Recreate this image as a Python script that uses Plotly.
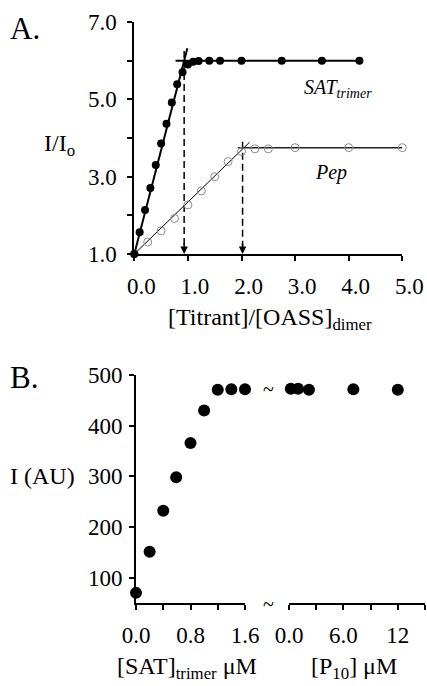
import plotly.graph_objects as go

# ---------------- Panel A data ----------------
sat_x = [0.0, 0.1, 0.2, 0.3, 0.4, 0.5, 0.6, 0.7, 0.8, 0.9, 1.0, 1.1, 1.2, 1.4, 1.6, 2.0, 2.75, 3.5, 4.2]
sat_y = [1.0, 1.56, 2.14, 2.71, 3.30, 3.86, 4.37, 4.92, 5.39, 5.70, 5.90, 5.97, 5.99, 6.0, 6.0, 6.0, 6.0, 6.0, 6.0]
pep_x = [0.0, 0.25, 0.5, 0.75, 1.0, 1.25, 1.5, 1.75, 2.0, 2.25, 2.5, 3.0, 4.0, 5.0]
pep_y = [1.0, 1.31, 1.60, 1.92, 2.27, 2.63, 3.0, 3.39, 3.65, 3.72, 3.72, 3.75, 3.75, 3.75]

sat_fit_x = [0.0, 0.99]
sat_fit_y = [1.0, 6.32]
sat_plateau_x = [0.77, 4.2]
sat_plateau_y = [6.0, 6.0]
pep_fit_x = [0.0, 2.15]
pep_fit_y = [1.0, 3.89]
pep_plateau_x = [1.93, 5.0]
pep_plateau_y = [3.75, 3.75]
sat_break_x = 0.93
pep_break_x = 2.02
sat_drop_y = [6.25, 1.2]
pep_drop_y = [3.9, 1.2]

a_yticks = [1, 2, 3, 4, 5, 6, 7]
a_ytext = ["1.0", "", "3.0", "", "5.0", "", "7.0"]
a_xticks = [0, 1, 2, 3, 4, 5]
a_xtext = ["0.0", "1.0", "2.0", "3.0", "4.0", "5.0"]

# ---------------- Panel B data ----------------
satb_x = [0.0, 0.2, 0.4, 0.59, 0.8, 1.0, 1.2, 1.4, 1.6]
satb_y = [70, 151, 232, 298, 366, 430, 471, 472, 472]
p10_x = [0.2, 1.0, 2.2, 7.1, 12.0]
p10_y = [473, 473, 471, 472, 471]

b_yticks = [100, 200, 300, 400, 500]
b_ytext = ["100", "200", "300", "400", "500"]
b_x2ticks = [0, 0.4, 0.8, 1.2, 1.6]
b_x2text = ["0.0", "", "0.8", "", "1.6"]
b_x3ticks = [0, 3, 6, 9, 12, 15]
b_x3text = ["0.0", "", "6.0", "", "12", ""]

W, H = 427, 686
FONT = "Liberation Serif"


def px(x):
    return x / W


def py(y):
    return 1 - y / H


fig = go.Figure()

# Panel A lines
fig.add_trace(go.Scatter(x=sat_fit_x, y=sat_fit_y, mode="lines",
                         line=dict(color="black", width=2), xaxis="x", yaxis="y", cliponaxis=False))
fig.add_trace(go.Scatter(x=sat_plateau_x, y=sat_plateau_y, mode="lines",
                         line=dict(color="black", width=2), xaxis="x", yaxis="y", cliponaxis=False))
fig.add_trace(go.Scatter(x=pep_fit_x, y=pep_fit_y, mode="lines",
                         line=dict(color="black", width=1), xaxis="x", yaxis="y", cliponaxis=False))
fig.add_trace(go.Scatter(x=pep_plateau_x, y=pep_plateau_y, mode="lines",
                         line=dict(color="#222222", width=1.5), xaxis="x", yaxis="y", cliponaxis=False))
fig.add_trace(go.Scatter(x=[sat_break_x, sat_break_x], y=sat_drop_y, mode="lines",
                         line=dict(color="black", width=1.5, dash="7px,4px"), xaxis="x", yaxis="y"))
fig.add_trace(go.Scatter(x=[pep_break_x, pep_break_x], y=pep_drop_y, mode="lines",
                         line=dict(color="black", width=1.5, dash="7px,4px"), xaxis="x", yaxis="y"))

# Panel A markers
fig.add_trace(go.Scatter(x=pep_x, y=pep_y, mode="markers",
                         marker=dict(symbol="circle-open", size=8, color="#8c8c8c", line=dict(width=1)),
                         xaxis="x", yaxis="y", cliponaxis=False))
fig.add_trace(go.Scatter(x=sat_x, y=sat_y, mode="markers",
                         marker=dict(symbol="circle", size=8, color="black"),
                         xaxis="x", yaxis="y", cliponaxis=False))

# Panel B markers
fig.add_trace(go.Scatter(x=satb_x, y=satb_y, mode="markers",
                         marker=dict(symbol="circle", size=12, color="black"),
                         xaxis="x2", yaxis="y2", cliponaxis=False))
fig.add_trace(go.Scatter(x=p10_x, y=p10_y, mode="markers",
                         marker=dict(symbol="circle", size=12, color="black"),
                         xaxis="x3", yaxis="y2", cliponaxis=False))

axis_common = dict(showgrid=False, zeroline=False, showline=True, linecolor="black", linewidth=2,
                   ticks="outside", ticklen=5, tickwidth=1.5, tickcolor="black", automargin=False,
                   tickfont=dict(family=FONT, size=23, color="black"))

fig.update_layout(
    template="none",
    width=W, height=H, margin=dict(l=0, r=0, t=0, b=0, pad=0), autosize=False,
    paper_bgcolor="white", plot_bgcolor="white", showlegend=False,
    xaxis=dict(domain=[px(134.3), px(402.3)], range=[0, 5], anchor="y",
               tickmode="array", tickvals=a_xticks, ticktext=a_xtext,
               ticklabelshift=7, ticklabelstandoff=5, **axis_common),
    yaxis=dict(domain=[py(254), py(22)], range=[1, 7], anchor="x",
               tickmode="array", tickvals=a_yticks, ticktext=a_ytext,
               ticklabelstandoff=6, **axis_common),
    xaxis2=dict(domain=[px(136), px(245)], range=[0, 1.6], anchor="y2",
                tickmode="array", tickvals=b_x2ticks, ticktext=b_x2text,
                ticklabelstandoff=5, **axis_common),
    xaxis3=dict(domain=[px(289), px(425)], range=[0, 15], anchor="y2",
                tickmode="array", tickvals=b_x3ticks, ticktext=b_x3text,
                ticklabelstandoff=5, **axis_common),
    yaxis2=dict(domain=[py(603), py(375)], range=[50, 500], anchor="x2",
                tickmode="array", tickvals=b_yticks, ticktext=b_ytext,
                ticklabelstandoff=2, **axis_common),
)

# drop arrows
for bx in (sat_break_x, pep_break_x):
    fig.add_annotation(x=bx, y=1.0, xref="x", yref="y", ax=0, ay=-12, text="",
                       showarrow=True, arrowhead=2, arrowsize=1, arrowwidth=1.5, arrowcolor="black")


def label(text, x, y, size=24, xanchor="center", yanchor="middle"):
    fig.add_annotation(x=px(x), y=py(y), xref="paper", yref="paper", text=text,
                       showarrow=False, xanchor=xanchor, yanchor=yanchor,
                       font=dict(family=FONT, size=size, color="black"))


label("A.", 8, 29, size=31, xanchor="left")
label("I/I<sub>o</sub>", 42, 145, xanchor="left")
label("[Titrant]/[OASS]<sub>dimer</sub>", 270, 319)
label("<i>SAT<sub>trimer</sub></i>", 302, 88, size=20, xanchor="left")
label("<i>Pep</i>", 331, 172, size=20)

label("B.", 8, 378, size=31, xanchor="left")
label("I (AU)", 8, 476, xanchor="left")
label("~", 268, 389, size=20)
label("~", 268, 604, size=20)
label("[SAT]<sub>trimer</sub> μM", 187, 668)
label("[P<sub>10</sub>] μM", 354, 668)

fig.write_html("out.html")
